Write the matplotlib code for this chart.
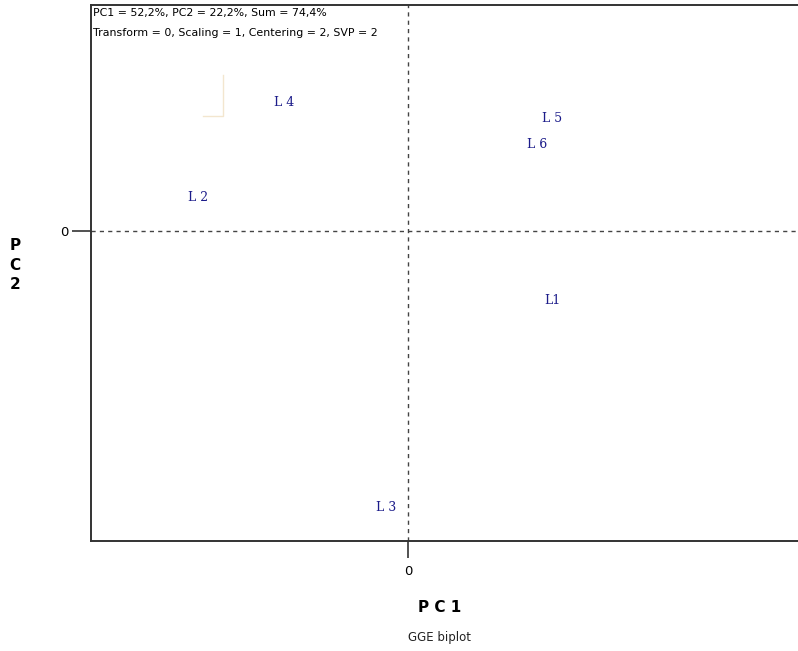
import matplotlib
matplotlib.use("Agg")
import matplotlib.pyplot as plt

# genotype scores on PC1 / PC2
labels = ["L1", "L 2", "L 3", "L 4", "L 5", "L 6"]
pc1 = [1.44, -2.10, -0.22, -1.24, 1.44, 1.29]
pc2 = [-0.70, 0.33, -2.77, 1.29, 1.12, 0.86]

header = ["PC1 = 52,2%, PC2 = 22,2%, Sum = 74,4%",
          "Transform = 0, Scaling = 1, Centering = 2, SVP = 2"]

# faint leftover corner mark
mark_x = [-2.05, -1.85, -1.85]
mark_y = [1.15, 1.15, 1.56]

fig = plt.figure(figsize=(7.98, 6.51), dpi=100)
ax = fig.add_axes([91/798, 110/651, 707/798, 536/651])

ax.set_xlim(-3.17, 3.90)
ax.set_ylim(-3.10, 2.26)

ax.axhline(0, color="#444444", lw=1, ls=(0, (3, 3)))
ax.axvline(0, color="#444444", lw=1, ls=(0, (3, 3)))
ax.plot(mark_x, mark_y, color="#f3e6cf", lw=1)

for lab, x, y in zip(labels, pc1, pc2):
    ax.text(x, y, lab, color="#1c1c8a", family="DejaVu Serif",
            fontsize=9, ha="center", va="center")

for s in ["left", "bottom", "top"]:
    ax.spines[s].set_color("#333333")
    ax.spines[s].set_linewidth(1.4)
ax.spines["right"].set_visible(False)

ax.set_xticks([0])
ax.set_yticks([0])
ax.set_xticklabels(["0"], fontsize=9.5)
ax.set_yticklabels(["0"], fontsize=9.5)
ax.tick_params(axis="x", length=12, width=1.2, color="#333333", pad=5)
ax.tick_params(axis="y", length=14, width=1.2, color="#333333", pad=2)

# header lines, placed in figure pixels
for i, line in enumerate(header):
    fig.text(93/798, 1 - (13 + 20*i)/651, line, fontsize=7.9, ha="left", va="center")

fig.text(440/798, 1 - 607/651, "P C 1", fontsize=11, fontweight="bold", ha="center", va="center")
fig.text(440/798, 1 - 637/651, "GGE biplot", fontsize=8.5, ha="center", va="center", color="#222222")
fig.text(15/798, 1 - 265/651, "P\nC\n2", fontsize=11, fontweight="bold", ha="center", va="center", linespacing=1.4)

fig.savefig("out.png", dpi=100)
